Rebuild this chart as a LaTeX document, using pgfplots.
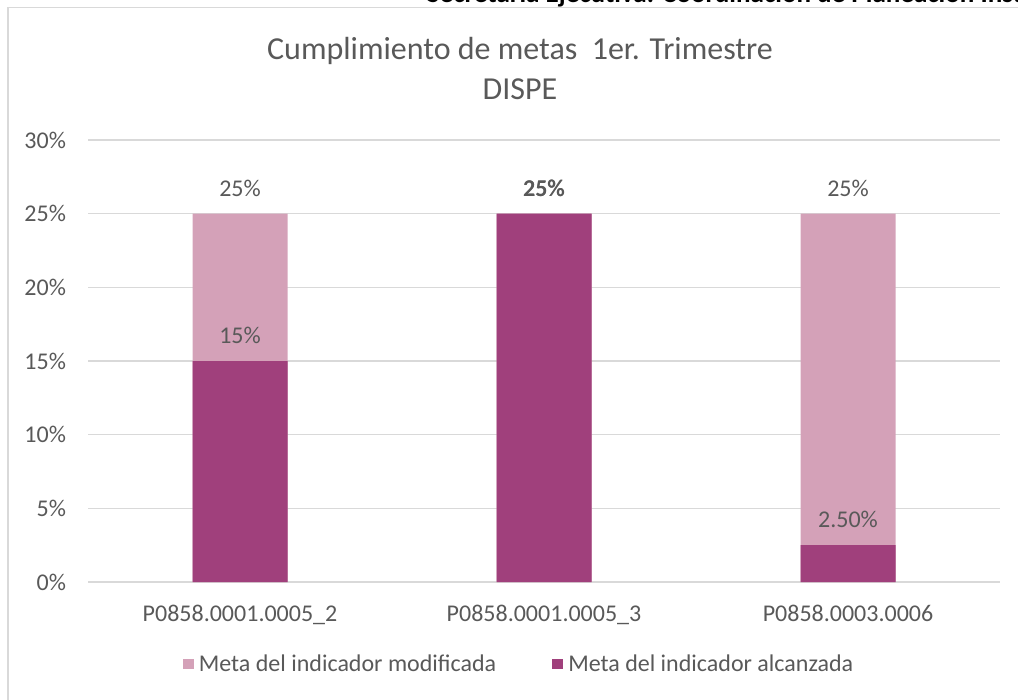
\documentclass[border=0pt]{standalone}
\usepackage{pgfplots}
\pgfplotsset{compat=1.18}
\usepackage{fontspec}
\setmainfont{Carlito}
\definecolor{txt}{HTML}{595959}
\definecolor{gridc}{HTML}{D9D9D9}
\definecolor{light}{HTML}{D4A1B8}
\definecolor{dark}{HTML}{A0407C}
\begin{document}
\begin{tikzpicture}
\useasboundingbox (0,0) rectangle (763.5pt,-525pt);
\draw[gridc, line width=0.9pt] (6pt,-540pt) -- (6pt,-5.5pt) -- (790pt,-5.5pt);
\node[anchor=base west, font=\fontsize{20.3}{25}\selectfont\bfseries, inner sep=0pt] at (320pt,-2.2pt) {Secretaría Ejecutiva. Coordinación de Planeación Institucional};
\node[align=center, text=txt, font=\fontsize{24}{30}\selectfont] at (390pt,-51pt) {Cumplimiento de metas\ \ 1er. Trimestre\\DISPE};
\begin{axis}[
  at={(66pt,-436.5pt)}, anchor=south west,
  scale only axis, width=684pt, height=331.5pt,
  ybar, bar width=71.25pt, bar shift=0pt,
  xmin=-0.5, xmax=2.5, ymin=0, ymax=30,
  xtick={0,1,2}, xticklabels={P0858.0001.0005\_2, P0858.0001.0005\_3, P0858.0003.0006},
  ytick={0,5,10,15,20,25,30},
  yticklabel={\pgfmathprintnumber{\tick}\%},
  /pgf/number format/assume math mode=true,
  ymajorgrids, grid style={gridc, line width=0.9pt},
  axis line style={draw=none},
  major tick length=0pt,
  tick label style={text=txt, font=\fontsize{18}{21}\selectfont},
  xticklabel style={yshift=-14pt},
  yticklabel style={xshift=-13pt},
  nodes near coords, point meta=explicit symbolic,
  every node near coord/.append style={text=txt, font=\fontsize{18}{21}\selectfont, anchor=center, yshift=19pt},
  legend columns=2,
  legend style={at={(0.4730,-0.1855)}, anchor=center, draw=none, fill=none, text=txt, font=\fontsize{18}{21}\selectfont,
    /tikz/every odd column/.append style={column sep=2pt},
    /tikz/every even column/.append style={column sep=40pt}},
  legend image code/.code={\fill[#1] (0pt,-4pt) rectangle (8pt,4pt);},
]
\addplot[fill=light, draw=none] coordinates {(0,25) [25\%] (1,25) [25\%] (2,25) [25\%]};
\addlegendentry{Meta del indicador modificada}
\addplot[fill=dark, draw=none] coordinates {(0,15) [15\%] (1,25) [\textbf{25\%}] (2,2.5) [2.50\%]};
\addlegendentry{Meta del indicador alcanzada}
\end{axis}
\end{tikzpicture}
\end{document}
